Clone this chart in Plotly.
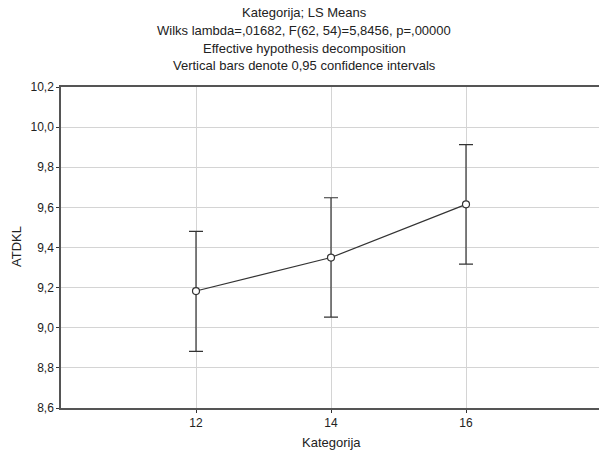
import plotly.graph_objects as go

categories = [12, 14, 16]
means = [9.183, 9.350, 9.615]
upper = [9.480, 9.648, 9.913]
lower = [8.882, 9.053, 9.317]
y_ticks = [8.6, 8.8, 9.0, 9.2, 9.4, 9.6, 9.8, 10.0, 10.2]
y_tick_labels = ["8,6", "8,8", "9,0", "9,2", "9,4", "9,6", "9,8", "10,0", "10,2"]
title_lines = [
    "Kategorija; LS Means",
    "Wilks lambda=,01682, F(62, 54)=5,8456, p=,00000",
    "Effective hypothesis decomposition",
    "Vertical bars denote 0,95 confidence intervals",
]

err_plus = [u - m for u, m in zip(upper, means)]
err_minus = [m - l for m, l in zip(means, lower)]

W, H = 599, 454
L, R, T, B = 61, 0, 87, 46
ph = H - T - B
pw = W - L - R

FONT = "Liberation Sans, Arial, sans-serif"
TXT = "#222222"
fig = go.Figure()
fig.add_trace(go.Scatter(
    x=categories, y=means, mode="lines+markers",
    line=dict(color="#333333", width=1.2),
    marker=dict(symbol="circle", size=7, color="white",
                line=dict(color="#333333", width=1.2)),
    error_y=dict(type="data", symmetric=False, array=err_plus, arrayminus=err_minus,
                 color="#333333", thickness=1.2, width=7),
    showlegend=False,
))

ann = []
ys = [13, 30.5, 48, 65.5]
for txt, yp in zip(title_lines, ys):
    ann.append(dict(text=txt, xref="paper", yref="paper",
                    x=(304 - L) / pw, y=(H - B - yp) / ph,
                    xanchor="center", yanchor="middle", showarrow=False,
                    font=dict(size=13, color=TXT, family=FONT)))
ann.append(dict(text="ATDKL", xref="paper", yref="paper",
                x=(16 - L) / pw, y=(H - B - 247) / ph, textangle=-90,
                xanchor="center", yanchor="middle", showarrow=False,
                font=dict(size=13, color=TXT, family=FONT)))
ann.append(dict(text="Kategorija", xref="paper", yref="paper",
                x=(331 - L) / pw, y=(H - B - 442) / ph,
                xanchor="center", yanchor="middle", showarrow=False,
                font=dict(size=13, color=TXT, family=FONT)))

x_end = 10 + (W - L) / 67.5
fig.update_layout(
    width=W, height=H,
    margin=dict(l=L, r=R, t=T, b=B, pad=0),
    paper_bgcolor="white", plot_bgcolor="white",
    font=dict(family=FONT, size=12, color=TXT),
    annotations=ann,
    xaxis=dict(range=[10, x_end], tickvals=categories, ticktext=[str(c) for c in categories],
               showgrid=True, gridcolor="#d4d4d4", gridwidth=1,
               showline=True, linecolor="#555555", linewidth=1.5, mirror=True,
               ticks="outside", ticklen=3, tickcolor="#333333",
               zeroline=False, tickfont=dict(size=12, color=TXT)),
    yaxis=dict(range=[8.6, 10.2], tickvals=y_ticks, ticktext=y_tick_labels,
               showgrid=True, gridcolor="#d4d4d4", gridwidth=1,
               showline=True, linecolor="#555555", linewidth=1.5, mirror=False,
               ticks="outside", ticklen=3, tickcolor="#333333",
               zeroline=False, tickfont=dict(size=12, color=TXT)),
)
fig.write_html("out.html")
